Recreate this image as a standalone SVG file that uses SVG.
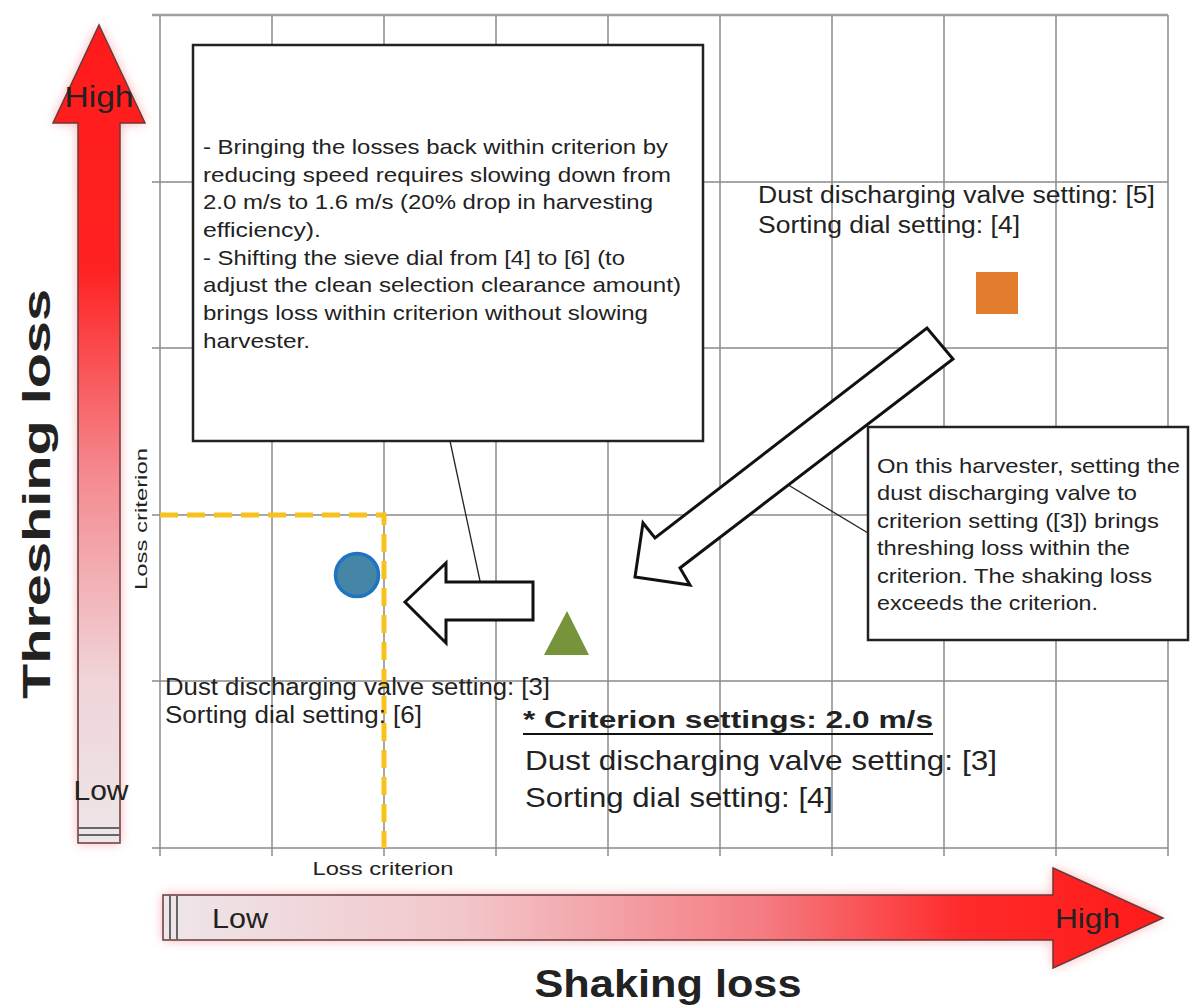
<svg xmlns="http://www.w3.org/2000/svg" width="1192" height="1007" viewBox="0 0 1192 1007">
<defs>
<style>
.grid{stroke:#8a8a8a;stroke-width:1.5;fill:none}
.gridb{stroke:#a0a0a0;stroke-width:2.5;fill:none}
.t{font-family:"Liberation Sans",Arial,sans-serif;fill:#222}
.box{fill:#fff;stroke:#222;stroke-width:2.5}
.hollow{fill:#fff;stroke:#111;stroke-width:3;stroke-linejoin:miter}
.ptr{stroke:#222;stroke-width:1.3;fill:none}
.crit{stroke:#f7c21c;stroke-width:5;stroke-dasharray:18 9;fill:none}
.axisline{stroke:#6a3a3a;stroke-width:1.5}
</style>
<linearGradient id="gv" gradientUnits="userSpaceOnUse" x1="0" y1="25" x2="0" y2="843">
<stop offset="0" stop-color="#ff1a1a"/>
<stop offset="0.3" stop-color="#ff2222"/>
<stop offset="0.55" stop-color="#f48a90"/>
<stop offset="0.8" stop-color="#f0d4d8"/>
<stop offset="1" stop-color="#ece6e8"/>
</linearGradient>
<linearGradient id="gh" gradientUnits="userSpaceOnUse" x1="163" y1="0" x2="1163" y2="0">
<stop offset="0" stop-color="#eee6ea"/>
<stop offset="0.3" stop-color="#f2c6ca"/>
<stop offset="0.6" stop-color="#f47c82"/>
<stop offset="0.8" stop-color="#ff2a2a"/>
<stop offset="1" stop-color="#ff1a1a"/>
</linearGradient>
<filter id="glow" x="-20%" y="-20%" width="140%" height="140%">
<feGaussianBlur stdDeviation="6"/>
</filter>
</defs>
<rect width="1192" height="1007" fill="#fff"/>

<g id="grid">
<path class="grid" d="M160 15V856M272 15V856M384 15V856M496 15V856M608 15V856M720 15V856M832 15V856M944 15V856M1056 15V856M1168 15V856"/>
<path class="grid" d="M152 182H1168M152 348H1168M152 515H1168M152 681H1168M152 848H1168"/>
<path class="gridb" d="M152 15H1168"/>
</g>

<g id="y-axis-arrow">
<polygon points="99,25 145,123 120,123 120,843 78,843 78,123 53,123" fill="#f06a70" opacity="0.55" filter="url(#glow)"/>
<polygon points="99,25 145,123 120,123 120,843 78,843 78,123 53,123" fill="url(#gv)" class="axisline"/>
<path d="M78 828H120M78 835H120" stroke="#666" stroke-width="2"/>
<text class="t" x="99" y="107" font-size="29" text-anchor="middle" textLength="69" lengthAdjust="spacingAndGlyphs" fill="#2a0a0a">High</text>
<text class="t" x="101" y="800" font-size="28" text-anchor="middle" textLength="55" lengthAdjust="spacingAndGlyphs">Low</text>
</g>

<g id="x-axis-arrow">
<polygon points="163,895 1053,895 1053,868 1163,918 1053,968 1053,940 163,940" fill="#f06a70" opacity="0.55" filter="url(#glow)"/>
<polygon points="163,895 1053,895 1053,868 1163,918 1053,968 1053,940 163,940" fill="url(#gh)" class="axisline"/>
<path d="M170 895V940M177 895V940" stroke="#666" stroke-width="2"/>
<text class="t" x="212" y="928" font-size="28" textLength="56" lengthAdjust="spacingAndGlyphs">Low</text>
<text class="t" x="1055" y="928" font-size="28" textLength="65" lengthAdjust="spacingAndGlyphs" fill="#2a0a0a">High</text>
</g>

<g id="axis-titles">
<text class="t" transform="translate(50,494) rotate(-90)" x="0" y="0" font-size="38" font-weight="bold" text-anchor="middle" textLength="410" lengthAdjust="spacingAndGlyphs" fill="#111">Threshing loss</text>
<text class="t" x="668" y="997" font-size="38" font-weight="bold" text-anchor="middle" textLength="267" lengthAdjust="spacingAndGlyphs" fill="#111">Shaking loss</text>
</g>

<g id="loss-criterion">
<path class="crit" d="M160 515H384V848"/>
<text class="t" transform="translate(147,519) rotate(-90)" font-size="17" text-anchor="middle" textLength="142" lengthAdjust="spacingAndGlyphs">Loss criterion</text>
<text class="t" x="383" y="875" font-size="19" text-anchor="middle" textLength="141" lengthAdjust="spacingAndGlyphs">Loss criterion</text>
</g>

<g id="connectors">
<line class="ptr" x1="450" y1="441" x2="483" y2="595"/>
<line class="ptr" x1="775" y1="477" x2="868" y2="533"/>
<polygon class="hollow" points="635,577 643,523 655,538 927,328 953,359 680,568 690,585"/>
<polygon class="hollow" points="405,602 446,563 446,582 533,582 533,620 446,620 446,643"/>
</g>

<g id="callout-left">
<rect class="box" x="193" y="45" width="510" height="396"/>
<g class="t" font-size="21">
<text x="203" y="154" textLength="465" lengthAdjust="spacingAndGlyphs">- Bringing the losses back within criterion by</text>
<text x="203" y="182" textLength="468" lengthAdjust="spacingAndGlyphs">reducing speed requires slowing down from</text>
<text x="203" y="209" textLength="450" lengthAdjust="spacingAndGlyphs">2.0 m/s to 1.6 m/s (20% drop in harvesting</text>
<text x="203" y="237" textLength="118" lengthAdjust="spacingAndGlyphs">efficiency).</text>
<text x="203" y="265" textLength="422" lengthAdjust="spacingAndGlyphs">- Shifting the sieve dial from [4] to [6] (to</text>
<text x="203" y="292" textLength="478" lengthAdjust="spacingAndGlyphs">adjust the clean selection clearance amount)</text>
<text x="203" y="320" textLength="445" lengthAdjust="spacingAndGlyphs">brings loss within criterion without slowing</text>
<text x="203" y="348" textLength="107" lengthAdjust="spacingAndGlyphs">harvester.</text>
</g>
</g>

<g id="callout-right">
<rect class="box" x="868" y="427" width="320" height="213"/>
<g class="t" font-size="21">
<text x="877" y="473" textLength="303" lengthAdjust="spacingAndGlyphs">On this harvester, setting the</text>
<text x="877" y="500" textLength="260" lengthAdjust="spacingAndGlyphs">dust discharging valve to</text>
<text x="877" y="528" textLength="282" lengthAdjust="spacingAndGlyphs">criterion setting ([3]) brings</text>
<text x="877" y="555" textLength="253" lengthAdjust="spacingAndGlyphs">threshing loss within the</text>
<text x="877" y="583" textLength="275" lengthAdjust="spacingAndGlyphs">criterion. The shaking loss</text>
<text x="877" y="610" textLength="221" lengthAdjust="spacingAndGlyphs">exceeds the criterion.</text>
</g>
</g>

<g id="marker-square">
<rect x="976" y="272" width="42" height="42" fill="#e37c2c"/>
<g class="t" font-size="23">
<text x="758" y="203" textLength="397" lengthAdjust="spacingAndGlyphs">Dust discharging valve setting: [5]</text>
<text x="758" y="233" textLength="262" lengthAdjust="spacingAndGlyphs">Sorting dial setting: [4]</text>
</g>
</g>

<g id="marker-circle">
<circle cx="357" cy="575" r="21.5" fill="#4585a6" stroke="#1f74c4" stroke-width="3.5"/>
<g class="t" font-size="23">
<text x="165" y="695" textLength="385" lengthAdjust="spacingAndGlyphs">Dust discharging valve setting: [3]</text>
<text x="165" y="723" textLength="257" lengthAdjust="spacingAndGlyphs">Sorting dial setting: [6]</text>
</g>
</g>

<g id="marker-triangle">
<polygon points="567,611 589,655 544,655" fill="#77933c"/>
</g>

<g id="criterion-settings">
<text class="t" x="523" y="728" font-size="24" font-weight="bold" textLength="410" lengthAdjust="spacingAndGlyphs" fill="#111">* Criterion settings: 2.0 m/s</text>
<line x1="523" y1="734" x2="933" y2="734" stroke="#111" stroke-width="2"/>
<text class="t" x="525" y="770" font-size="28" textLength="472" lengthAdjust="spacingAndGlyphs">Dust discharging valve setting: [3]</text>
<text class="t" x="525" y="807" font-size="28" textLength="308" lengthAdjust="spacingAndGlyphs">Sorting dial setting: [4]</text>
</g>
</svg>
